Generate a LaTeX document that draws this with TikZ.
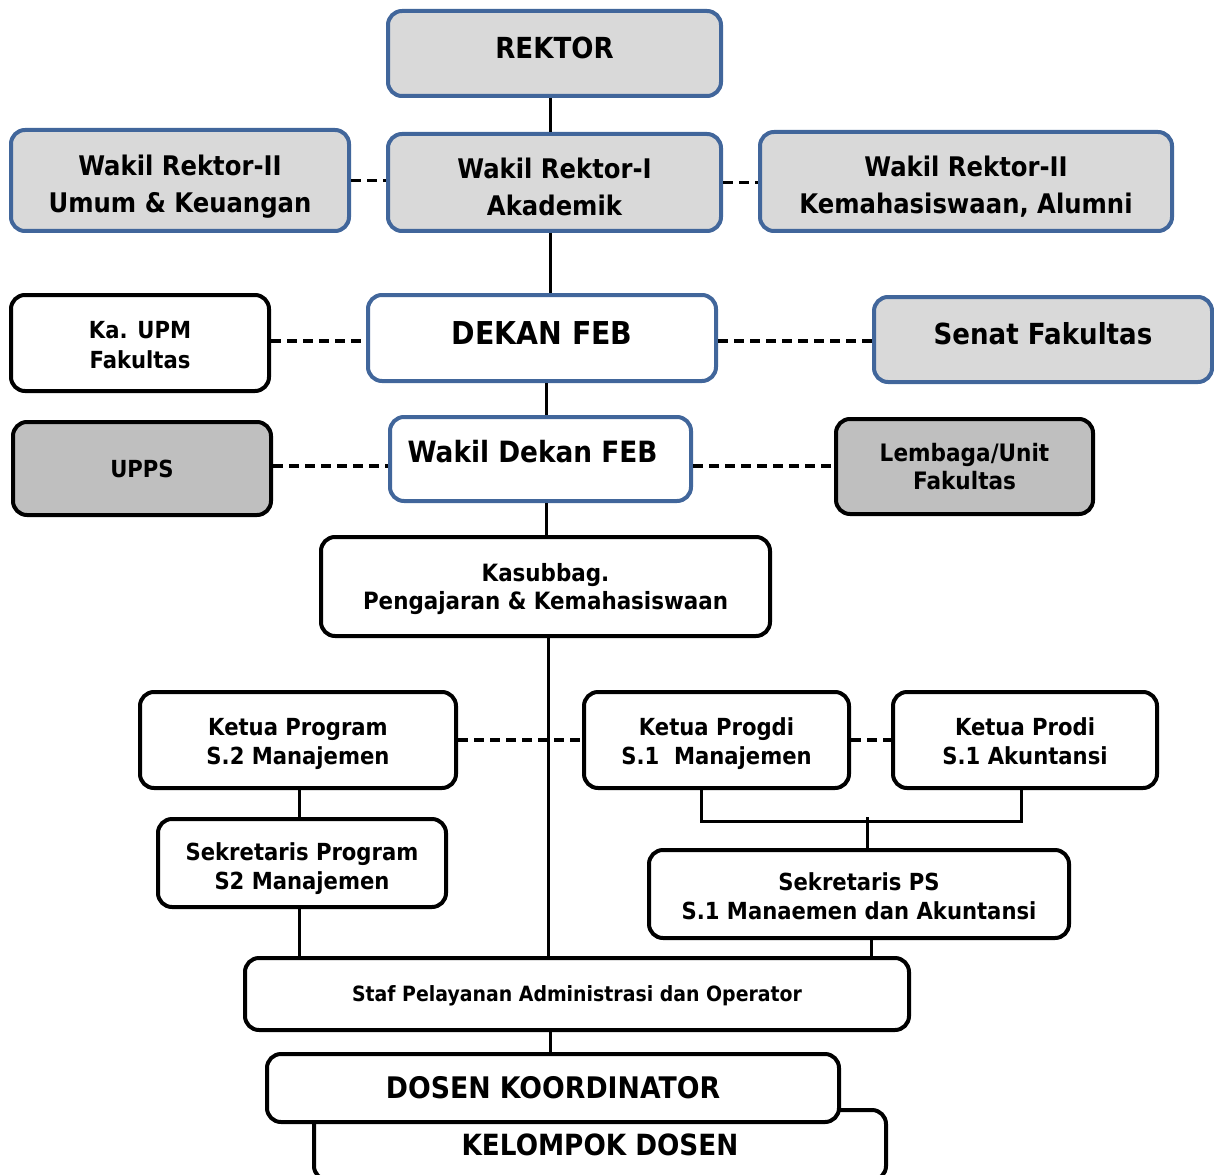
\documentclass[tikz,border=0pt]{standalone}
\usepackage{fontspec}
\setmainfont{DejaVu Sans}[FakeStretch=0.9]
\definecolor{bluebd}{HTML}{41669B}
\definecolor{lgray}{HTML}{D9D9D9}
\definecolor{dgray}{HTML}{BFBFBF}
\tikzset{
  boxbase/.style={rounded corners=14pt, line width=4pt, inner sep=0pt, align=center},
  bluegray/.style={boxbase, draw=bluebd, fill=lgray},
  bluewhite/.style={boxbase, draw=bluebd, fill=white},
  blackwhite/.style={boxbase, draw=black, fill=white},
  blackgray/.style={boxbase, draw=black, fill=dgray},
  lbl/.style={align=center, inner sep=0pt},
  conn/.style={line width=3pt, draw=black},
  dconn/.style={line width=3.5pt, draw=black, dash pattern=on 10pt off 6pt},
  fs/.style args={#1/#2}{font=\fontsize{#1}{#2}\selectfont\bfseries}
}
\begin{document}
\begin{tikzpicture}[x=1pt,y=-1pt]
\useasboundingbox (0,0) rectangle (1214,1174);
\clip (0,0) rectangle (1214,1174);
% top level
\node[bluegray, fs=29/35, minimum width=333pt, minimum height=85pt, text depth=12pt] (rektor) at (554.5,53.5) {REKTOR};
\node[bluegray, minimum width=333pt, minimum height=97pt,
  label={[lbl, fs=27/37, yshift=-4pt]center:{Wakil Rektor-I\\Akademik}}] (wr1) at (554.5,182.5) {};
\node[bluegray, minimum width=338pt, minimum height=101pt,
  label={[lbl, fs=27/37, yshift=-6pt]center:{Wakil Rektor-II\\Umum \& Keuangan}}] (wr2l) at (180,180.5) {};
\node[bluegray, minimum width=412pt, minimum height=99pt,
  label={[lbl, fs=27/37, yshift=-5.5pt]center:{Wakil Rektor-II\\Kemahasiswaan, Alumni}}] (wr2r) at (966,181.5) {};
% faculty level
\node[blackwhite, minimum width=258pt, minimum height=96pt,
  label={[lbl, fs=23.5/30, yshift=-2pt]center:{Ka. UPM\\Fakultas}}] (upm) at (140,343) {};
\node[bluewhite, fs=31.5/38, minimum width=348pt, minimum height=86pt, text depth=10pt] (dekan) at (542,338) {DEKAN FEB};
\node[bluegray, fs=29/35, minimum width=338pt, minimum height=85pt, text depth=12pt] (senat) at (1043,339.5) {Senat Fakultas};
\node[blackgray, fs=23.5/30, minimum width=258pt, minimum height=93pt] (upps) at (142,468.5) {UPPS};
\node[bluewhite, minimum width=301pt, minimum height=84pt,
  label={[lbl, fs=29.3/35, xshift=-8pt, yshift=7pt]center:{Wakil Dekan FEB}}] (wd) at (540.5,459) {};
\node[blackgray, fs=24/28, minimum width=257pt, minimum height=95pt] (lembaga) at (964.5,466.5) {Lembaga/Unit\\Fakultas};
\node[blackwhite, minimum width=449pt, minimum height=99pt,
  label={[lbl, fs=23.8/28, yshift=-3pt]center:{Kasubbag.\\Pengajaran \& Kemahasiswaan}}] (kasub) at (545.5,586.5) {};
% programs
\node[blackwhite, minimum width=316pt, minimum height=96pt,
  label={[lbl, fs=23.5/29, yshift=-4pt]center:{Ketua Program\\S.2 Manajemen}}] (kps2) at (298,740) {};
\node[blackwhite, minimum width=265pt, minimum height=96pt,
  label={[lbl, fs=23.5/29, yshift=-4pt]center:{Ketua Progdi\\S.1\ \ Manajemen}}] (kps1m) at (716.5,740) {};
\node[blackwhite, minimum width=264pt, minimum height=96pt,
  label={[lbl, fs=23.5/29, yshift=-1pt]center:{Ketua Prodi\\S.1 Akuntansi}}] (kps1a) at (1025,740) {};
\node[blackwhite, minimum width=288pt, minimum height=88pt,
  label={[lbl, fs=23.5/29, yshift=-6pt]center:{Sekretaris Program\\S2 Manajemen}}] (sekp) at (302,863) {};
\node[blackwhite, minimum width=420pt, minimum height=88pt,
  label={[lbl, fs=23.5/29, yshift=-2pt]center:{Sekretaris PS\\S.1 Manaemen dan Akuntansi}}] (sekps) at (859,894) {};
\node[blackwhite, minimum width=664pt, minimum height=72pt,
  label={[lbl, fs=21/26, yshift=-2pt]center:{Staf Pelayanan Administrasi dan Operator}}] (staf) at (577,994) {};
% dosen
\node[blackwhite, fs=29.2/35, minimum width=572pt, minimum height=70pt] (kd) at (600,1145) {KELOMPOK DOSEN};
\node[blackwhite, fs=29.7/35, minimum width=572pt, minimum height=68pt] (dk) at (553,1088) {DOSEN KOORDINATOR};
% solid connectors
\draw[conn] ([xshift=-4.5pt]rektor.south) -- ([xshift=-4.5pt]wr1.north);
\draw[conn] ([xshift=-4.5pt]wr1.south) -- ([xshift=-4.5pt]wr1.south |- dekan.north);
\draw[conn] ([xshift=4pt]dekan.south) -- ([xshift=4pt]dekan.south |- wd.north);
\draw[conn] ([xshift=5.5pt]wd.south) -- ([xshift=5.5pt]wd.south |- kasub.north);
\draw[conn] ([xshift=2.5pt]kasub.south) -- ([xshift=2.5pt]kasub.south |- staf.north);
\draw[conn] ([xshift=-3pt]dk.north) -- ([xshift=-3pt]dk.north |- staf.south);
\draw[conn] ([xshift=1pt]kps2.south) -- ([xshift=1pt]kps2.south |- sekp.north);
\draw[conn] ([xshift=-3pt]sekp.south) -- ([xshift=-3pt]sekp.south |- staf.north);
\draw[conn] ([xshift=-15.5pt]kps1m.south) -- ++(0,31) -| ([xshift=-4pt]kps1a.south);
\draw[conn] ([xshift=8pt]sekps.north) -- ++(0,-31);
\draw[conn] ([xshift=12pt]sekps.south) -- ([xshift=12pt]sekps.south |- staf.north);
% dashed connectors
\draw[dconn] (wr2l.east) -- (wr2l.east -| wr1.west);
\draw[dconn] (wr1.east) -- (wr1.east -| wr2r.west);
\draw[dconn] ([yshift=2pt]upm.east) -- ([yshift=2pt]upm.east -| dekan.west);
\draw[dconn] ([yshift=2pt]upm.east -| dekan.east) -- ([yshift=2pt]upm.east -| senat.west);
\draw[dconn] ([yshift=2.5pt]upps.east) -- ([yshift=2.5pt]upps.east -| wd.west);
\draw[dconn] ([yshift=2.5pt]upps.east -| wd.east) -- ([yshift=2.5pt]upps.east -| lembaga.west);
\draw[dconn] (kps2.east) -- (kps1m.west);
\draw[dconn] (kps1m.east) -- (kps1a.west);
\end{tikzpicture}
\end{document}
